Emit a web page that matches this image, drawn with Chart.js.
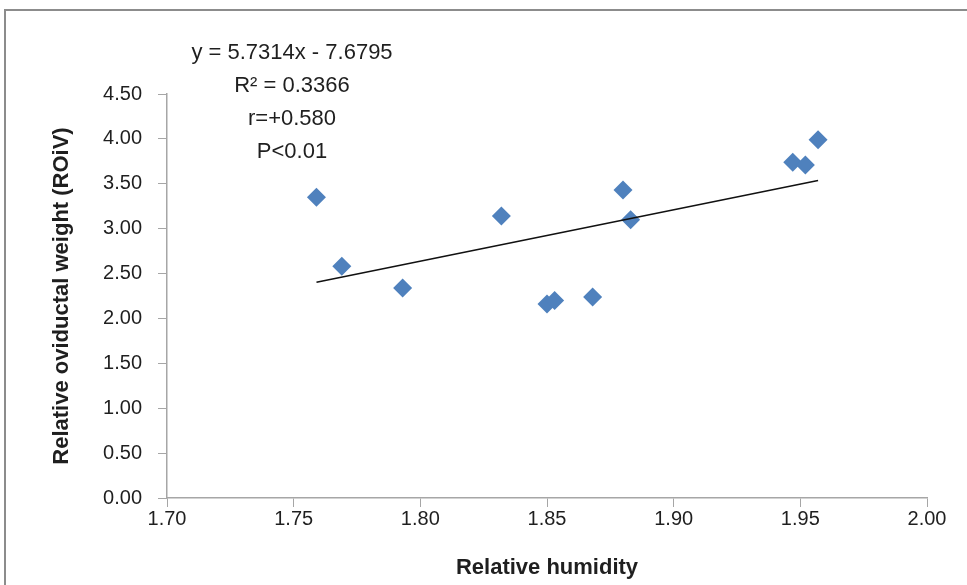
<!DOCTYPE html>
<html>
<head>
<meta charset="utf-8">
<title>Relative oviductal weight vs relative humidity</title>
<script src="https://cdn.jsdelivr.net/npm/chart.js@4/dist/chart.umd.min.js"></script>
<style>
  html, body { margin: 0; padding: 0; background: #fff; }
  #wrap { position: relative; width: 967px; height: 585px; }
  #frame {
    position: absolute; left: 4px; top: 9px; width: 980px; height: 600px;
    border-left: 2px solid #8c8c8c; border-top: 2px solid #8c8c8c;
    pointer-events: none;
  }
</style>
</head>
<body>
<div id="wrap">
  <canvas id="chart" width="967" height="585"></canvas>
  <div id="frame"></div>
</div>
<script>
const humidity = [1.759, 1.769, 1.793, 1.832, 1.850, 1.853, 1.868, 1.880, 1.883, 1.947, 1.952, 1.957];
const oviductWeight = [3.35, 2.58, 2.34, 3.14, 2.16, 2.20, 2.24, 3.43, 3.10, 3.74, 3.71, 3.99];

// linear trend endpoints (y = 5.7314x - 7.6795 over the data range)
const trendX = [1.759, 1.957];
const trendY = [2.402, 3.537];

const xTicks = [1.70, 1.75, 1.80, 1.85, 1.90, 1.95, 2.00];
const yTicks = [0, 0.5, 1, 1.5, 2, 2.5, 3, 3.5, 4, 4.5];

const statLines = ['y = 5.7314x - 7.6795', 'R\u00b2 = 0.3366', 'r=+0.580', 'P<0.01'];

const AXIS_GRAY = '#a6a6a6';
const TEXT = '#1f1f1f';
const FONT = '"Liberation Sans", Arial, sans-serif';

// draws the regression text block in the upper left
const statText = {
  id: 'statText',
  afterDraw(chart) {
    const ctx = chart.ctx;
    ctx.save();
    ctx.font = '22px ' + FONT;
    ctx.fillStyle = TEXT;
    ctx.textAlign = 'center';
    ctx.textBaseline = 'middle';
    statLines.forEach((t, i) => ctx.fillText(t, 292, 53 + i * 33));
    ctx.restore();
  }
};

const ctx = document.getElementById('chart').getContext('2d');
new Chart(ctx, {
  type: 'scatter',
  data: {
    datasets: [
      {
        label: 'Linear trend',
        type: 'line',
        data: trendX.map((x, i) => ({ x, y: trendY[i] })),
        borderColor: '#111',
        borderWidth: 1.5,
        pointRadius: 0,
        fill: false
      },
      {
        label: 'ROiV',
        data: humidity.map((x, i) => ({ x, y: oviductWeight[i] })),
        pointStyle: 'rectRot',
        pointRadius: 9.5,
        pointHoverRadius: 9.5,
        backgroundColor: '#4f81bd',
        borderColor: '#4f81bd',
        borderWidth: 0
      }
    ]
  },
  options: {
    responsive: false,
    animation: false,
    events: [],
    layout: { padding: { left: 0, top: 94, right: 40, bottom: 0 } },
    plugins: { legend: { display: false }, tooltip: { enabled: false } },
    scales: {
      x: {
        type: 'linear',
        min: 1.70, max: 2.00,
        afterBuildTicks: s => { s.ticks = xTicks.map(v => ({ value: v })); },
        afterFit: s => { s.height = 87; },
        grid: { drawOnChartArea: false, drawTicks: true, tickLength: 9, color: AXIS_GRAY },
        border: { color: AXIS_GRAY, width: 1.5 },
        ticks: {
          padding: 0,
          color: TEXT,
          font: { family: FONT, size: 20 },
          callback: v => v.toFixed(2)
        },
        title: {
          display: true,
          text: 'Relative humidity',
          color: TEXT,
          font: { family: FONT, size: 22, weight: 'bold' },
          padding: { top: 4, bottom: 4 }
        }
      },
      y: {
        type: 'linear',
        min: 0, max: 4.5,
        afterBuildTicks: s => { s.ticks = yTicks.map(v => ({ value: v })); },
        afterFit: s => { s.width = 167; },
        grid: { drawOnChartArea: false, drawTicks: true, tickLength: 9, color: AXIS_GRAY },
        border: { color: AXIS_GRAY, width: 1.5 },
        ticks: {
          padding: 16,
          color: TEXT,
          font: { family: FONT, size: 20 },
          callback: v => v.toFixed(2)
        },
        title: {
          display: true,
          text: 'Relative oviductal weight (ROiV)',
          color: TEXT,
          font: { family: FONT, size: 22, weight: 'bold' },
          padding: { top: 49, bottom: 49 }
        }
      }
    }
  },
  plugins: [statText]
});
</script>
</body>
</html>
